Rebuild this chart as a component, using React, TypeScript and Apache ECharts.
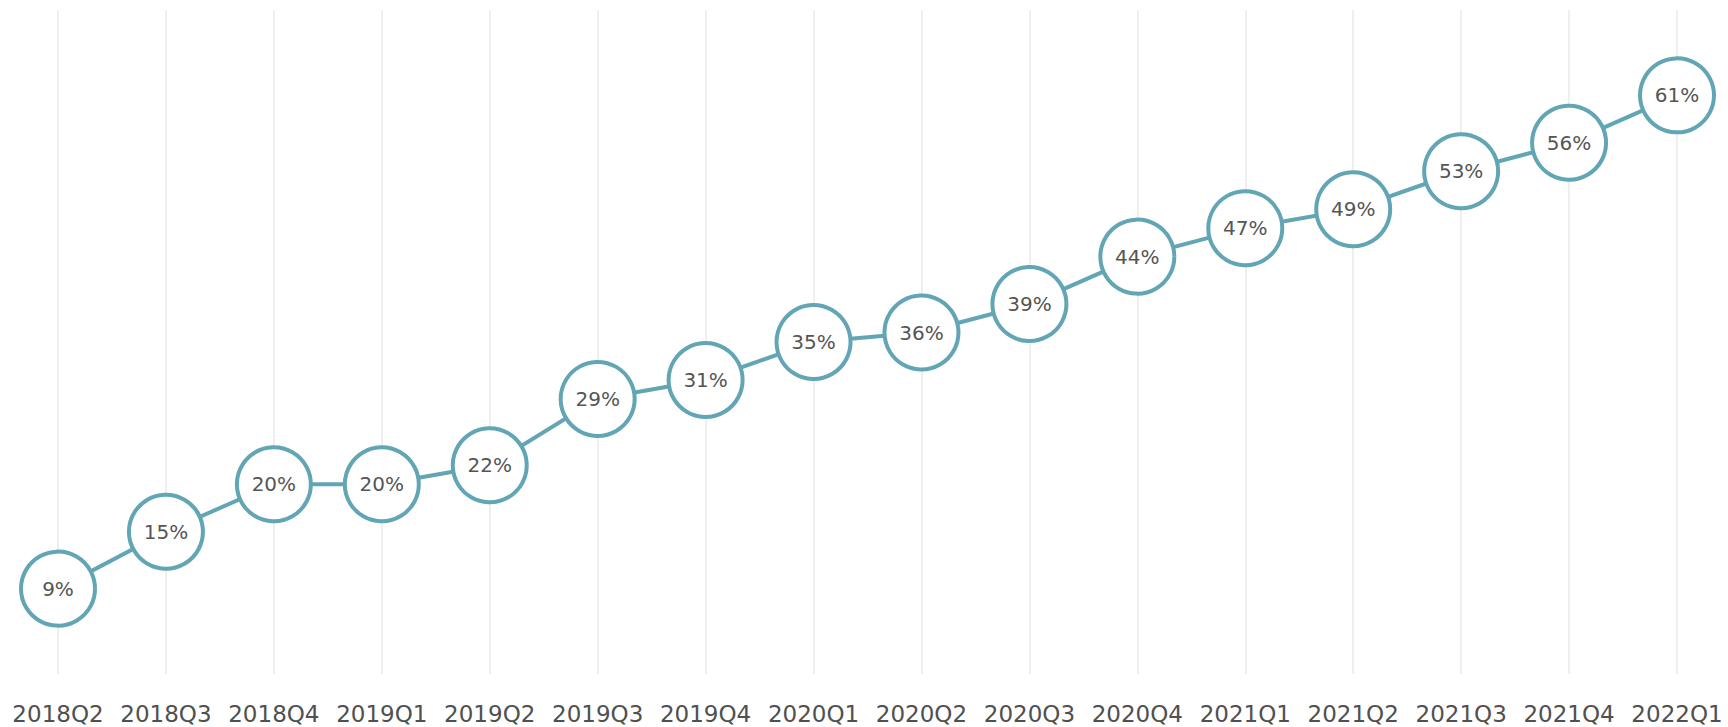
import React, { useEffect, useRef } from "react";
import * as echarts from "echarts";

const categories = [
  "2018Q2", "2018Q3", "2018Q4", "2019Q1", "2019Q2", "2019Q3", "2019Q4", "2020Q1",
  "2020Q2", "2020Q3", "2020Q4", "2021Q1", "2021Q2", "2021Q3", "2021Q4", "2022Q1",
];
const values = [9, 15, 20, 20, 22, 29, 31, 35, 36, 39, 44, 47, 49, 53, 56, 61];

const TEAL = "#62a5b5";

export default function App() {
  const ref = useRef<HTMLDivElement>(null);
  useEffect(() => {
    if (!ref.current) return;
    const chart = echarts.init(ref.current, undefined, { renderer: "svg" });
    chart.setOption({
      animation: false,
      backgroundColor: "#ffffff",
      grid: { left: 58, right: 51, top: 10, bottom: 53, containLabel: false },
      xAxis: {
        type: "category",
        data: categories,
        boundaryGap: false,
        axisLine: { show: false },
        axisTick: { show: false },
        axisLabel: {
          interval: 0,
          color: "#505050",
          fontSize: 23,
          fontFamily: "DejaVu Sans",
          margin: 28,
        },
        splitLine: { show: true, interval: 0, lineStyle: { color: "#efefef", width: 2 } },
      },
      yAxis: {
        type: "value",
        min: 0,
        max: 70,
        show: false,
        splitLine: { show: false },
      },
      series: [
        {
          type: "line",
          data: values,
          symbol: "circle",
          symbolSize: 74,
          showAllSymbol: true,
          lineStyle: { color: TEAL, width: 4 },
          itemStyle: { color: "#ffffff", borderColor: TEAL, borderWidth: 4 },
          label: {
            show: true,
            position: "inside",
            formatter: "{c}%",
            color: "#555555",
            fontSize: 20,
            fontFamily: "DejaVu Sans",
          },
        },
      ],
    });
    return () => chart.dispose();
  }, []);
  return (
    <div
      ref={ref}
      style={{ position: "fixed", left: 0, top: 0, width: 1728, height: 727 }}
    />
  );
}
